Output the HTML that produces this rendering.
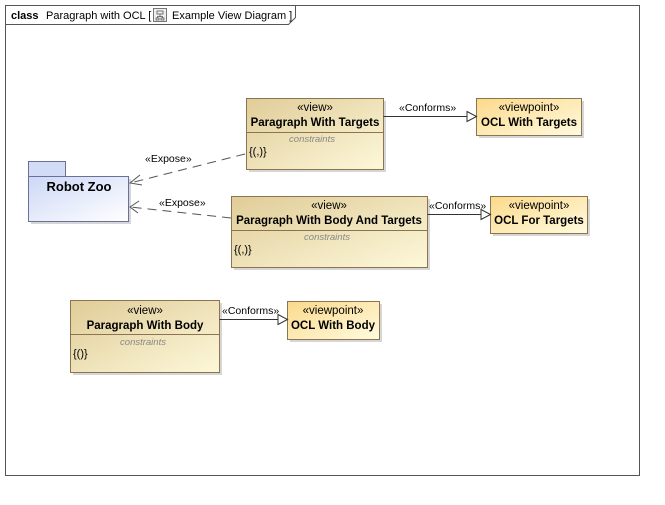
<!DOCTYPE html>
<html><head><meta charset="utf-8"><style>
body{margin:0;background:#fff;}
svg text{font-family:"Liberation Sans",Arial,sans-serif;}
</style></head><body>
<svg width="665" height="500" xmlns="http://www.w3.org/2000/svg">
<defs>
<linearGradient id="gv" x1="0" y1="0" x2="1" y2="1"><stop offset="0" stop-color="#e0cc98"/><stop offset="1" stop-color="#fdf8da"/></linearGradient>
<linearGradient id="gp" x1="0" y1="0" x2="1" y2="1"><stop offset="0" stop-color="#fbd98a"/><stop offset="1" stop-color="#fffbe0"/></linearGradient>
<linearGradient id="gz" x1="0" y1="0" x2="1" y2="1"><stop offset="0" stop-color="#cdd8f6"/><stop offset="1" stop-color="#ffffff"/></linearGradient>
</defs>
<rect x="0" y="0" width="665" height="500" fill="#fff"/>
<rect x="5.5" y="5.5" width="634" height="470" fill="none" stroke="#555"/>
<path d="M5.5 24.5 H288.5 L295.5 17.5 V5.5" fill="none" stroke="#555"/>
<text x="11" y="19" font-size="11" font-weight="bold">class</text>
<text x="46" y="19" font-size="11">Paragraph with OCL [</text>
<rect x="153.5" y="8.5" width="13" height="13" fill="#eee" stroke="#777"/>
<path d="M157 11h6v3h-6zM156 18h3v2h-3zM161 18h3v2h-3zM160 14v2.5M157.5 18v-1.5h5v1.5" fill="none" stroke="#555" stroke-width="0.8"/>
<text x="172" y="19" font-size="11">Example View Diagram ]</text>

<g fill="#d6d6d6">
<rect x="249" y="101" width="137" height="71"/>
<rect x="479" y="101" width="105" height="37"/>
<rect x="234" y="199" width="196" height="71"/>
<rect x="493" y="199" width="97" height="37"/>
<rect x="73" y="303" width="149" height="72"/>
<rect x="290" y="304" width="92" height="38"/>
<rect x="31" y="179" width="100" height="45"/>
</g>

<rect x="28.5" y="161.5" width="37" height="15" fill="#d3dcf7" stroke="#6a7099"/>
<rect x="28.5" y="176.5" width="100" height="45" fill="url(#gz)" stroke="#6a7099"/>
<text x="79" y="191" font-size="13" font-weight="bold" text-anchor="middle">Robot Zoo</text>

<rect x="246.5" y="98.5" width="137" height="71" fill="url(#gv)" stroke="#8b7550"/>
<line x1="246.5" y1="132.5" x2="383.5" y2="132.5" stroke="#8b7550"/>
<text x="315" y="111" font-size="11.5" text-anchor="middle">«view»</text>
<text x="315" y="126" font-size="11.5" font-weight="bold" text-anchor="middle">Paragraph With Targets</text>
<text x="312" y="142" font-size="9.5" font-style="italic" fill="#888" text-anchor="middle">constraints</text>
<text x="249" y="155" font-size="11">{(,)}</text>

<rect x="476.5" y="98.5" width="105" height="37" fill="url(#gp)" stroke="#8b7550"/>
<text x="529" y="111" font-size="11.5" text-anchor="middle">«viewpoint»</text>
<text x="529" y="126" font-size="11.5" font-weight="bold" text-anchor="middle">OCL With Targets</text>

<rect x="231.5" y="196.5" width="196" height="71" fill="url(#gv)" stroke="#8b7550"/>
<line x1="231.5" y1="230.5" x2="427.5" y2="230.5" stroke="#8b7550"/>
<text x="329" y="209" font-size="11.5" text-anchor="middle">«view»</text>
<text x="329" y="224" font-size="11.5" font-weight="bold" text-anchor="middle">Paragraph With Body And Targets</text>
<text x="327" y="240" font-size="9.5" font-style="italic" fill="#888" text-anchor="middle">constraints</text>
<text x="234" y="253" font-size="11">{(,)}</text>

<rect x="490.5" y="196.5" width="97" height="37" fill="url(#gp)" stroke="#8b7550"/>
<text x="539" y="209" font-size="11.5" text-anchor="middle">«viewpoint»</text>
<text x="539" y="224" font-size="11.5" font-weight="bold" text-anchor="middle">OCL For Targets</text>

<rect x="70.5" y="300.5" width="149" height="72" fill="url(#gv)" stroke="#8b7550"/>
<line x1="70.5" y1="334.5" x2="219.5" y2="334.5" stroke="#8b7550"/>
<text x="145" y="314" font-size="11.5" text-anchor="middle">«view»</text>
<text x="145" y="329" font-size="11.5" font-weight="bold" text-anchor="middle">Paragraph With Body</text>
<text x="143" y="345" font-size="9.5" font-style="italic" fill="#888" text-anchor="middle">constraints</text>
<text x="73" y="357" font-size="11">{()}</text>

<rect x="287.5" y="301.5" width="92" height="38" fill="url(#gp)" stroke="#8b7550"/>
<text x="333" y="314" font-size="11.5" text-anchor="middle">«viewpoint»</text>
<text x="333" y="329" font-size="11.5" font-weight="bold" text-anchor="middle">OCL With Body</text>

<g stroke="#333" fill="none">
<line x1="383.5" y1="116.5" x2="467" y2="116.5"/>
<path d="M467 111.5 L476.5 116.5 L467 121.5 Z" fill="#fff"/>
<line x1="427.5" y1="214.5" x2="481" y2="214.5"/>
<path d="M481 209.5 L490.5 214.5 L481 219.5 Z" fill="#fff"/>
<line x1="219.5" y1="319.5" x2="278" y2="319.5"/>
<path d="M278 314.5 L287.5 319.5 L278 324.5 Z" fill="#fff"/>
</g>
<text x="399" y="111" font-size="10.5">«Conforms»</text>
<text x="429" y="209" font-size="10.5">«Conforms»</text>
<text x="222" y="314" font-size="10.5">«Conforms»</text>

<g stroke="#555" fill="none">
<line x1="245" y1="154" x2="130" y2="183" stroke-dasharray="9,6"/>
<path d="M140 175 L130 183 L142 185"/>
<line x1="231" y1="218" x2="130" y2="207" stroke-dasharray="9,6"/>
<path d="M139 201 L130 207 L138 213"/>
</g>
<text x="145" y="162" font-size="10.5">«Expose»</text>
<text x="159" y="206" font-size="10.5">«Expose»</text>
</svg>
</body></html>
